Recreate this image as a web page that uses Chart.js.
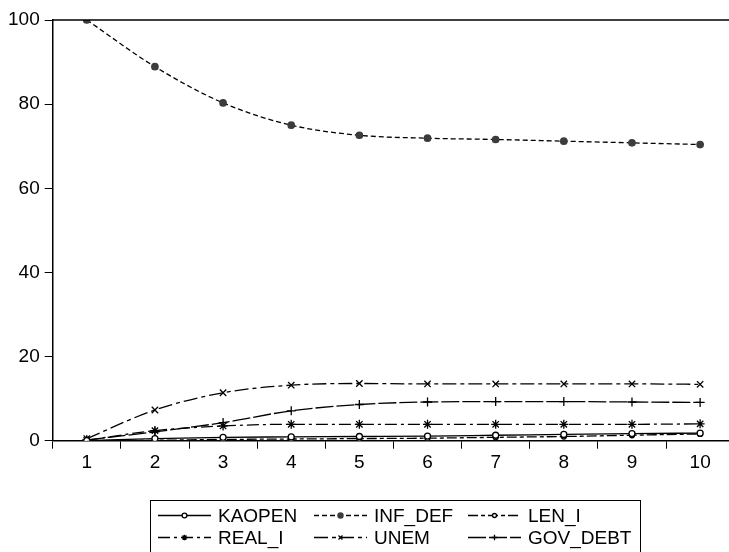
<!DOCTYPE html>
<html>
<head>
<meta charset="utf-8">
<script src="https://cdn.jsdelivr.net/npm/chart.js@4.4.1/dist/chart.umd.min.js"></script>
<style>
  html, body { margin: 0; padding: 0; background: #fff; overflow: hidden; }
  #wrap { width: 740px; height: 552px; position: relative; }
</style>
</head>
<body>
<div id="wrap"><canvas id="c"></canvas></div>
<script>
// Forecast horizon (periods)
const periods = ['1', '2', '3', '4', '5', '6', '7', '8', '9', '10'];
const yTicks = [0, 20, 40, 60, 80, 100];

// Variance decomposition shares (%)
const kaopen  = [0.0, 0.5, 0.8, 0.9, 1.0, 1.1, 1.3, 1.5, 1.7, 1.8];
const infDef  = [100.0, 88.9, 80.3, 75.0, 72.6, 71.9, 71.6, 71.2, 70.8, 70.4];
const lenI    = [0.0, 0.1, 0.3, 0.4, 0.5, 0.6, 0.8, 1.0, 1.3, 1.6];
const realI   = [0.1, 2.4, 3.5, 3.9, 3.9, 3.9, 3.9, 3.9, 3.9, 4.0];
const unem    = [0.5, 7.3, 11.4, 13.2, 13.6, 13.5, 13.5, 13.5, 13.5, 13.4];
const govDebt = [0.2, 2.1, 4.3, 7.1, 8.6, 9.2, 9.3, 9.3, 9.2, 9.1];

const FONT = "'Liberation Sans', Arial, sans-serif";

function series(label, data, dash, style, radius, fill, color) {
  return {
    label, data,
    borderColor: '#000',
    borderWidth: 1.3,
    borderDash: dash,
    pointStyle: style,
    pointRadius: radius,
    pointHoverRadius: radius,
    pointBorderWidth: 1.3,
    pointBorderColor: color || '#000',
    pointBackgroundColor: fill,
    cubicInterpolationMode: 'monotone',
    fill: false
  };
}

const datasets = [
  series('KAOPEN',   kaopen,  [],            'circle',   3,   '#fff'),
  series('INF_DEF',  infDef,  [5, 3],        'circle',   3.2, '#3c3c3c', '#3c3c3c'),
  series('LEN_I',    lenI,    [10, 3, 4, 3], 'circle',   2.5, '#fff'),
  series('REAL_I',   realI,   [12, 4, 3, 4], 'star',     4.5, '#000'),
  series('UNEM',     unem,    [14, 4, 4, 4], 'crossRot', 4.5, '#000'),
  series('GOV_DEBT', govDebt, [18, 3],       'cross',    4.5, '#000')
];

// Boxed two-row legend under the plot, plus the frame line across the top
const framePlugin = {
  id: 'frameAndLegend',
  afterDraw(chart) {
    const ctx = chart.ctx;
    const a = chart.chartArea;
    ctx.save();
    ctx.strokeStyle = '#000';
    ctx.lineWidth = 1.5;
    ctx.beginPath();
    ctx.moveTo(a.left, a.top);
    ctx.lineTo(a.right, a.top);
    ctx.stroke();

    // legend box
    ctx.lineWidth = 1;
    ctx.strokeRect(150.5, 500.5, 490, 53);

    const cols = [
      { x1: 158, x2: 211, tx: 218 },
      { x1: 314, x2: 367, tx: 374 },
      { x1: 468, x2: 521, tx: 528 }
    ];
    const rows = [515.5, 537.5];
    ctx.font = '19px ' + FONT;
    ctx.textBaseline = 'middle';
    ctx.textAlign = 'left';
    chart.data.datasets.forEach((ds, i) => {
      const c = cols[i % 3];
      const y = rows[Math.floor(i / 3)];
      ctx.save();
      ctx.strokeStyle = '#000';
      ctx.lineWidth = ds.borderWidth;
      ctx.setLineDash(ds.borderDash);
      ctx.beginPath();
      ctx.moveTo(c.x1, y);
      ctx.lineTo(c.x2, y);
      ctx.stroke();
      ctx.setLineDash([]);
      ctx.fillStyle = ds.pointBackgroundColor;
      ctx.strokeStyle = ds.pointBorderColor;
      ctx.lineWidth = ds.pointBorderWidth;
      Chart.helpers.drawPoint(ctx, {
        pointStyle: ds.pointStyle,
        radius: Math.min(ds.pointRadius, 3.5) * 0.8,
        rotation: 0,
        borderWidth: ds.pointBorderWidth
      }, (c.x1 + c.x2) / 2, y);
      ctx.restore();
      ctx.fillStyle = '#000';
      ctx.fillText(ds.label, c.tx, y + 1);
    });
    ctx.restore();
  }
};

new Chart(document.getElementById('c'), {
  type: 'line',
  data: { labels: periods, datasets },
  options: {
    responsive: true,
    maintainAspectRatio: false,
    animation: false,
    events: [],
    layout: { padding: { top: 20, right: 3, left: 0, bottom: 0 } },
    plugins: { legend: { display: false }, tooltip: { enabled: false } },
    scales: {
      x: {
        type: 'category',
        offset: true,
        grid: { offset: true, drawOnChartArea: false, drawTicks: true, tickLength: 8, color: '#000', lineWidth: 1 },
        border: { color: '#000', width: 1.5 },
        ticks: { color: '#000', font: { family: FONT, size: 19 }, padding: 3, maxRotation: 0, autoSkip: false },
        afterFit(s) { s.height = 111.3; }
      },
      y: {
        min: 0, max: 100,
        afterBuildTicks(s) { s.ticks = yTicks.map(v => ({ value: v })); },
        grid: { drawOnChartArea: false, drawTicks: true, tickLength: 8, color: '#000', lineWidth: 1 },
        border: { color: '#000', width: 1.5 },
        ticks: { color: '#000', font: { family: FONT, size: 19 }, padding: 5 },
        afterFit(s) { s.width = 52.7; }
      }
    }
  },
  plugins: [framePlugin]
});
</script>
</body>
</html>
